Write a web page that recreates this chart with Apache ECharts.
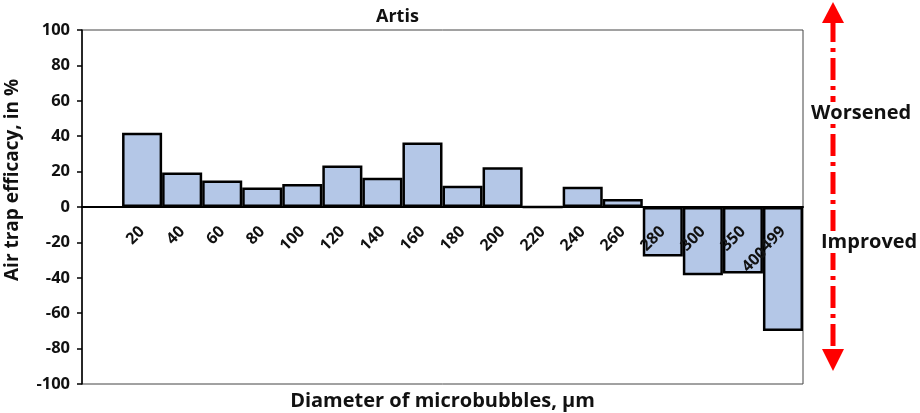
<!DOCTYPE html>
<html>
<head>
<meta charset="utf-8">
<script src="https://cdn.jsdelivr.net/npm/echarts@6/dist/echarts.min.js"></script>
<style>
html,body{margin:0;padding:0;background:#fff;}
#c{width:920px;height:413px;}
</style>
</head>
<body>
<div id="c"></div>
<script>
// ---- data ----
const categories = ['', '20', '40', '60', '80', '100', '120', '140', '160', '180', '200', '220', '240', '260', '280', '300', '350', '499'];
const values = [null, 42, 19.5, 15, 11, 13, 23.5, 16.5, 36.5, 12, 22.5, 0, 11.5, 4.5, -28, -38.5, -37.5, -70];
const extraTickLabels = { '350': '400' }; // a second tick label printed below "350"
const yTicks = { min: -100, max: 100, interval: 20 };
const titleText = 'Artis';
const xName = 'Diameter of microbubbles, µm';
const yName = 'Air trap efficacy, in %';
const upLabel = 'Worsened';
const downLabel = 'Improved';

const FONT = 'Open Sans';
const chart = echarts.init(document.getElementById('c'), null, { renderer: 'canvas' });

const gridTop = 30, gridBottom = 29, H = 413;
const plotH = H - gridTop - gridBottom;
const zeroOffset = -plotH * (0 - yTicks.min) / (yTicks.max - yTicks.min); // lift x axis to the zero line

const arrowX = 833;
chart.setOption({
  animation: false,
  backgroundColor: '#fff',
  title: {
    text: titleText, left: 371, top: 3,
    textStyle: { fontFamily: FONT, fontWeight: 'bold', fontSize: 18, color: '#111' }
  },
  grid: { left: 82, right: 117, top: gridTop, bottom: gridBottom, containLabel: false, outerBoundsMode: 'none',
          show: true, borderColor: '#444', borderWidth: 1, backgroundColor: 'transparent' },
  xAxis: {
    type: 'category',
    data: categories,
    z: 10,
    offset: zeroOffset,
    axisLine: { onZero: false, lineStyle: { color: '#000', width: 2 } },
    axisTick: { show: false },
    axisLabel: {
      interval: 0, rotate: 45, margin: 22, hideOverlap: false,
      fontFamily: FONT, fontWeight: 'bold', fontSize: 16, color: '#111', lineHeight: 30,
      formatter: v => extraTickLabels[v] ? '\n' + v + '\n' + extraTickLabels[v] : v
    },
    name: xName, nameLocation: 'middle', nameGap: 184,
    nameTextStyle: { fontFamily: FONT, fontWeight: 'bold', fontSize: 20, color: '#111' }
  },
  yAxis: {
    type: 'value', min: yTicks.min, max: yTicks.max, interval: yTicks.interval,
    splitLine: { show: false },
    axisLine: { show: true, onZero: false, lineStyle: { color: '#000', width: 1.5 } },
    axisTick: { show: true, inside: false, length: 5, lineStyle: { color: '#000', width: 1.5 } },
    axisLabel: { margin: 12, fontFamily: FONT, fontWeight: 'bold', fontSize: 16.5, color: '#111' },
    name: yName, nameLocation: 'middle', nameGap: 60, nameRotate: 90,
    nameTextStyle: { fontFamily: FONT, fontWeight: 'bold', fontSize: 19, color: '#111', padding: [0, 0, 0, 54] }
  },
  series: [{
    type: 'bar',
    data: values,
    barCategoryGap: '0%',
    itemStyle: { color: '#b4c7e7', borderColor: '#000', borderWidth: 2.5 },
    z: 2
  }],
  graphic: [
    { type: 'line', z: 1, shape: { x1: arrowX, y1: 20, x2: arrowX, y2: 352 },
      style: { stroke: '#ff0000', lineWidth: 5, lineDash: [22, 6, 4, 6] } },
    { type: 'polygon', z: 2, shape: { points: [[arrowX, 2], [arrowX - 11, 23], [arrowX + 11, 23]] }, style: { fill: '#ff0000' } },
    { type: 'polygon', z: 2, shape: { points: [[arrowX, 371], [arrowX - 11, 349], [arrowX + 11, 349]] }, style: { fill: '#ff0000' } },
    { type: 'text', z: 3, left: 810, top: 102,
      style: { text: upLabel, fontFamily: FONT, fontWeight: 'bold', fontSize: 20, fill: '#111', backgroundColor: '#fff', padding: [1, 1] } },
    { type: 'text', z: 3, left: 820, top: 231,
      style: { text: downLabel, fontFamily: FONT, fontWeight: 'bold', fontSize: 20, fill: '#111', backgroundColor: '#fff', padding: [1, 1] } }
  ]
});
</script>
</body>
</html>
